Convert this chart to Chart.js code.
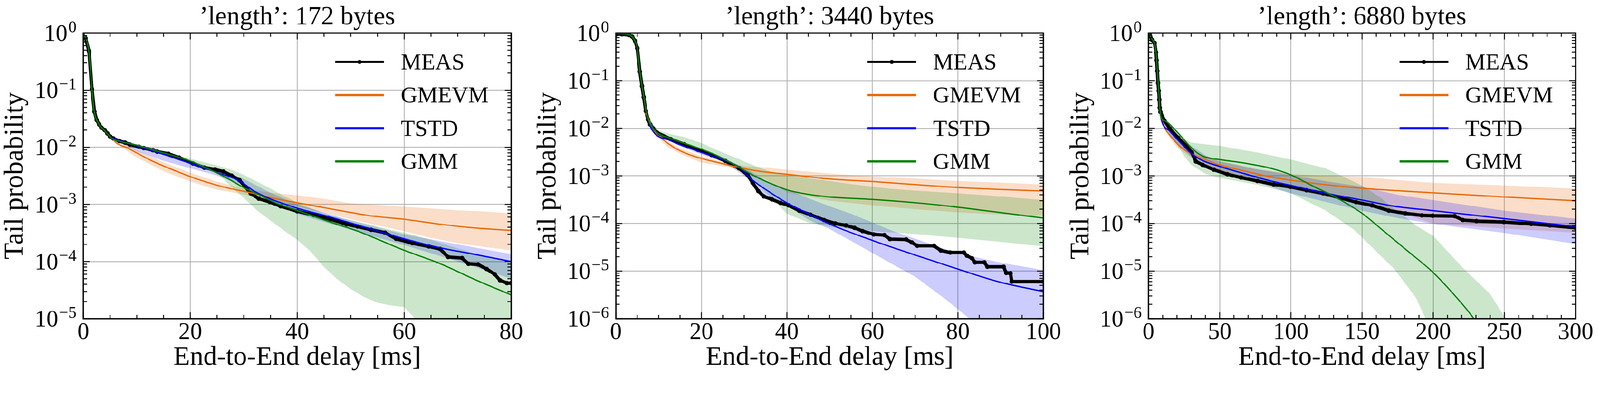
<!DOCTYPE html>
<html>
<head>
<meta charset="utf-8">
<title>Tail probability</title>
<script src="https://cdn.jsdelivr.net/npm/chart.js@4.4.1/dist/chart.umd.min.js"></script>
<style>
html,body{margin:0;padding:0;background:#fff;overflow:hidden;}
#wrap{position:relative;width:4263px;height:1006px;background:#fff;transform-origin:0 0;}
canvas{position:absolute;top:0;}
</style>
</head>
<body>
<div id="wrap">
<canvas id="c1" style="left:0px;width:1420px;height:1006px"></canvas>
<canvas id="c2" style="left:1420px;width:1420px;height:1006px"></canvas>
<canvas id="c3" style="left:2840px;width:1423px;height:1006px"></canvas>
</div>
<script>
// ---- panel 1 : 172 bytes ----
var meas1X = [0.42,1.07,1.61,2.08,2.5,2.97,3.4,4.0,4.5,5.0,5.6,6.7,7.8,8.7,10.4,11.3,13.0,13.8,15.9,17.9,20.5,22.6,24.6,26.2,27.7,29.2,30.3,31.3,32.8,34.9,36.9,40.0,43.1,46.2,49.2,51.3,53.8,56.4,58.5,61.5,64.6,66.7,68.2,70.8,72.0,73.8,75.4,76.9,77.9,79.2,80];
var meas1Y = [0.81,0.48,0.104,0.042,0.030,0.025,0.022,0.020,0.0175,0.0155,0.0143,0.0129,0.0121,0.0112,0.0102,0.0097,0.0089,0.0084,0.0077,0.0066,0.0052,0.0044,0.0041,0.00376,0.0032,0.00266,0.00203,0.00156,0.00126,0.0011,0.00093,0.00076,0.00065,0.00055,0.00045,0.00041,0.00036,0.00032,0.00025,0.00021,0.000184,0.000166,0.00012,0.000115,0.000091,0.000089,0.000074,0.00006,0.000047,0.000042,0.000042];
var gmevm1X = [5.5,5.9,8.2,10.3,12.8,15.4,17.9,20.5,23.1,25.6,28.2,30.8,33.3,35.9,40,44.1,48.7,53.8,60,66.7,72.8,80];
var gmevm1Y = [0.0145,0.0126,0.0098,0.0077,0.0058,0.00454,0.00366,0.00295,0.00245,0.00209,0.00183,0.00164,0.00144,0.00126,0.00107,0.00091,0.00076,0.00063,0.00055,0.00045,0.00039,0.00035];
var gmevmBand1X  = [5.5,8,10,15,20,25,30,35,40,45,50,55,60,65,70,75,80];
var gmevmBand1Lo = [0.0138,0.0088,0.0066,0.0038,0.0025,0.0018,0.0015,0.00115,0.00092,0.00072,0.00055,0.00043,0.00034,0.00026,0.00021,0.00018,0.000157];
var gmevmBand1Hi = [0.0152,0.0108,0.0088,0.0055,0.0036,0.0025,0.0019,0.0016,0.00145,0.00125,0.00105,0.00098,0.00091,0.00085,0.00079,0.00075,0.0007];
var tstd1X = [5.5,6.7,10.3,13.8,17.9,21.5,25.6,29.2,30.3,31.8,34.9,40,46.2,53.8,60,66.7,73.3,80];
var tstd1Y = [0.0145,0.0132,0.0104,0.0082,0.0061,0.0047,0.00347,0.00259,0.0022,0.00174,0.00126,0.00086,0.0006,0.00037,0.00025,0.000174,0.000133,0.0001];
var tstdBand1X  = [5.5,10,15,20,25,30,35,40,50,60,70,80];
var tstdBand1Lo = [0.0138,0.0085,0.0058,0.0043,0.0032,0.0021,0.0011,0.00068,0.00036,0.000194,0.0001,0.00005];
var tstdBand1Hi = [0.0148,0.0108,0.0078,0.0058,0.0042,0.0028,0.0016,0.001,0.00052,0.0003,0.0002,0.000135];
var gmm1X = [0.14,1.0,1.6,2.0,2.7,3.9,5.5,6.7,10.3,13.8,17.4,20.5,23.6,26.7,29.7,32.8,35.9,40,46.2,51.3,60,66.7,73.3,80];
var gmm1Y = [0.97,0.5,0.111,0.045,0.0275,0.02,0.014,0.0128,0.0107,0.0086,0.0069,0.0055,0.0041,0.00295,0.00203,0.00148,0.00107,0.00078,0.00049,0.00034,0.000157,0.000092,0.000048,0.000026];
var gmmBand1X  = [5.5,10,15,20,25,27.5,30,32.5,35,37.5,40,42.5,45,47.5,50,52.5,55,57.5,60,62,63,65,70,75,80];
var gmmBand1Lo = [0.0134,0.0100,0.0074,0.0054,0.0036,0.0021,0.0013,0.00078,0.00052,0.00035,0.00024,0.00015,0.00008,0.000049,0.000033,0.000024,0.000019,0.000017,0.000016,0.00001,0.000007,0.000004,0.000002,0.000001,0.000001];
var gmmBand1Hi = [0.0146,0.0112,0.0082,0.0063,0.0048,0.0041,0.0033,0.0025,0.0019,0.0014,0.00108,0.00086,0.0007,0.0006,0.00053,0.00047,0.00041,0.00036,0.00032,0.00029,0.00027,0.00024,0.00017,0.000125,0.000097];
var xTicks1 = [0,20,40,60,80];

// ---- panel 2 : 3440 bytes ----
var meas2X = [0.3,1.4,3.0,3.8,4.5,5.0,5.6,6.1,6.5,7.0,7.5,8.0,8.7,9.6,12.8,16,19.2,22.4,25.6,28.8,30.8,32,33.3,34.6,36.5,38.5,40.4,42.9,45.5,48.7,51.3,53.8,55.8,57.7,60.3,62.8,64.1,67.9,69.2,70.5,74.4,76,78.2,81.4,82.1,83.3,84,86.2,86.9,90.7,91.3,92.3,92.6,100];
var meas2Y = [0.95,0.94,0.91,0.84,0.68,0.48,0.154,0.077,0.045,0.023,0.0152,0.012,0.0098,0.0081,0.0059,0.0046,0.00352,0.00274,0.00206,0.00144,0.00105,0.00071,0.00048,0.00037,0.00032,0.00027,0.00024,0.000186,0.000153,0.000118,0.0001,0.000091,0.000081,0.000069,0.000059,0.000057,0.000047,0.000046,0.00004,0.000034,0.000034,0.000027,0.0000245,0.0000245,0.000021,0.0000185,0.0000152,0.0000152,0.0000123,0.0000123,0.0000091,0.000009,0.000006,0.000006];
var gmevm2X = [6.9,7.4,9,10.9,13.5,16.7,20,23.7,27.6,33.3,40,50,60,70.5,80,89.7,100];
var gmevm2Y = [0.021,0.0174,0.0086,0.0059,0.004,0.0029,0.00232,0.00192,0.00158,0.00126,0.00108,0.00086,0.00076,0.00065,0.00057,0.00052,0.00048];
var gmevmBand2X  = [6.9,9,12,15,20,25,30,35,40,50,60,70,80,90,100];
var gmevmBand2Lo = [0.019,0.0075,0.0041,0.0029,0.0019,0.0016,0.0013,0.00085,0.00045,0.0003,0.00024,0.0002,0.00017,0.000155,0.000144];
var gmevmBand2Hi = [0.023,0.0095,0.0054,0.0038,0.0026,0.002,0.0016,0.0015,0.00135,0.00112,0.00097,0.00088,0.00078,0.00072,0.00066];
var tstd2X = [7.5,8.3,12.8,19.2,25.6,28.8,32,35.9,40,44.9,50,60,70.5,80,89.7,100];
var tstd2Y = [0.016,0.0098,0.0055,0.0033,0.0021,0.00153,0.00081,0.00046,0.00027,0.000163,0.000097,0.000044,0.000021,0.000011,0.0000059,0.0000037];
var tstdBand2X  = [7.5,10,15,20,25,30,35,40,45,50,55,60,65,70,77,82.7,90,100];
var tstdBand2Lo = [0.015,0.0071,0.0042,0.0028,0.002,0.001,0.00038,0.00024,0.00012,0.000076,0.000043,0.000024,0.0000135,0.0000076,0.0000026,0.000001,0.0000004,0.0000002];
var tstdBand2Hi = [0.017,0.0085,0.005,0.0034,0.0024,0.0015,0.0008,0.00052,0.00034,0.00023,0.00016,0.000105,0.000068,0.000048,0.000029,0.000021,0.000015,0.0000105];
var gmm2X = [0,2,3.5,4.3,5.0,5.6,6.1,6.6,7.0,7.4,8,9.6,12.8,16.7,20,24.4,28.2,32,35.9,40,44.9,50,60,70.5,80,89.7,100];
var gmm2Y = [0.97,0.96,0.88,0.72,0.48,0.16,0.077,0.042,0.024,0.0174,0.0125,0.0081,0.0061,0.0046,0.00363,0.00248,0.00163,0.00104,0.00071,0.00051,0.00041,0.00036,0.00032,0.00027,0.00022,0.00017,0.00013];
var gmmBand2X  = [7.4,9.6,12,16,20,22.4,25,28.8,30,32,34,36,40,45,50,55,60,64,70,80,90,100];
var gmmBand2Lo = [0.016,0.0072,0.0056,0.0042,0.0032,0.0027,0.0021,0.0014,0.00115,0.0008,0.00055,0.00037,0.00016,0.000105,0.000085,0.000076,0.000069,0.000065,0.00006,0.00005,0.000041,0.000033];
var gmmBand2Hi = [0.018,0.0092,0.0078,0.0065,0.0049,0.0039,0.0031,0.00225,0.002,0.0017,0.00144,0.00125,0.00105,0.0009,0.00078,0.00067,0.00059,0.00054,0.00049,0.00043,0.00037,0.00031];
var xTicks2 = [0,20,40,60,80,100];

// ---- panel 3 : 6880 bytes ----
var meas3X = [0.7,2.4,4.3,5.3,5.7,6.2,6.7,7.2,7.6,7.9,8.4,11.2,15,20.8,26.5,30.4,33.3,38,45.8,55.4,65,76.5,88,99.6,111,122.7,134,145.8,157,168.8,180.4,192,199.6,215,220.8,230.4,249.6,268.8,282,300];
var meas3Y = [0.97,0.72,0.62,0.39,0.27,0.16,0.089,0.061,0.04,0.027,0.022,0.0144,0.0098,0.0063,0.0043,0.0031,0.002,0.0017,0.00135,0.00108,0.00092,0.00078,0.00066,0.00059,0.0005,0.00043,0.00035,0.00028,0.00024,0.000186,0.000163,0.000148,0.000145,0.000143,0.000118,0.000112,0.000107,0.000098,0.000091,0.000081];
var gmevm3X = [8.3,11.2,15,22.7,30.4,38,50,67,86,100,124.6,150,200,250,300];
var gmevm3Y = [0.019,0.0104,0.0071,0.004,0.0029,0.00232,0.0017,0.00127,0.00095,0.00081,0.00065,0.00055,0.00044,0.00036,0.0003];
var gmevmBand3X  = [8.3,15,20,30,40,50,75,100,125,150,175,200,250,300];
var gmevmBand3Lo = [0.017,0.0062,0.004,0.0024,0.0016,0.0012,0.00075,0.00052,0.00037,0.00026,0.00017,0.0001,0.000078,0.000064];
var gmevmBand3Hi = [0.02,0.0078,0.0055,0.0036,0.0026,0.0021,0.0014,0.0011,0.001,0.00095,0.00082,0.00071,0.00063,0.00054];
var tstd3X = [8.3,9.2,15,22.7,30.4,38,50,67,86,100,124.6,150,172.7,200,250,300];
var tstd3Y = [0.02,0.0144,0.0086,0.0049,0.0029,0.0021,0.00158,0.00112,0.00078,0.00063,0.00043,0.00031,0.00023,0.000186,0.000126,0.000086];
var tstdBand3X  = [8.3,15,20,30,40,50,75,100,125,150,175,200,250,300];
var tstdBand3Lo = [0.019,0.0075,0.0048,0.0025,0.0016,0.0012,0.00075,0.00043,0.00028,0.000186,0.00013,0.000098,0.000063,0.000037];
var tstdBand3Hi = [0.021,0.0098,0.0068,0.0043,0.0027,0.002,0.0014,0.00105,0.00077,0.00059,0.0004,0.00031,0.000186,0.000126];
var gmm3X = [0,2.4,4.3,5.3,6.2,7.2,7.9,8.6,11.2,13,18.8,24.6,30.4,38,50,67,86,100,115,130.4,150,165,182.3,200,215,227.5,235];
var gmm3Y = [1.0,0.75,0.6,0.4,0.17,0.06,0.027,0.018,0.0144,0.0135,0.0092,0.0059,0.0038,0.0026,0.0022,0.00186,0.00144,0.00105,0.00062,0.00037,0.000163,0.00007,0.000026,0.0000093,0.0000031,0.0000011,0.0000005];
var gmmBand3X  = [8.3,10,15,20,25,30,40,50,57,76.5,100,124.6,144,150,163,172.7,182,188,194,200,220.8,240,250,260];
var gmmBand3Lo = [0.019,0.012,0.007,0.0045,0.0026,0.0017,0.0011,0.0009,0.00083,0.00065,0.00043,0.000186,0.000075,0.000051,0.000021,0.000011,0.0000047,0.0000027,0.0000011,0.0000005,0.0000001,0.0000001,0.0000001,0.0000001];
var gmmBand3Hi = [0.021,0.019,0.013,0.0085,0.006,0.005,0.0046,0.0043,0.0039,0.0031,0.0022,0.00144,0.00076,0.00062,0.00035,0.0002,0.000126,0.00009,0.00007,0.000055,0.0000117,0.0000033,0.0000011,0.0000004];
var xTicks3 = [0,50,100,150,200,250,300];

var titles = ['\u2019length\u2019: 172 bytes', '\u2019length\u2019: 3440 bytes', '\u2019length\u2019: 6880 bytes'];
var seriesNames = ['MEAS', 'GMEVM', 'TSTD', 'GMM'];

var F = '"Liberation Serif", "Times New Roman", serif';
var ORANGE = 'rgb(232,106,8)';
var BLUE = '#0000ff';
var GREEN = '#008000';

// the page is laid out at 4263 x 1006; shrink it if the window is narrower
var sc = window.innerWidth / 4263;
if (sc > 0 && Math.abs(sc - 1) > 0.002) {
  document.getElementById('wrap').style.transform = 'scale(' + sc + ')';
}

function pts(xs, ys) {
  return xs.map(function (x, i) { return {x: x, y: ys[i]}; });
}

// ticks, frame, tick labels and legend, drawn on top like matplotlib
var axesDeco = {
  id: 'axesDeco',
  afterDraw: function (chart) {
    var c = chart.options.plugins.axesDeco;
    var ctx = chart.ctx, a = chart.chartArea;
    var sx = chart.scales.x, sy = chart.scales.y;
    ctx.save();
    ctx.strokeStyle = '#000';
    ctx.lineWidth = 2.5;
    ctx.beginPath();
    for (var v = 0; v <= c.xMax + 1e-9; v += c.xMinor) {
      var px = sx.getPixelForValue(v);
      var major = c.xTicks.indexOf(Math.round(v * 1000) / 1000) >= 0;
      var len = major ? 17 : 10;
      ctx.moveTo(px, a.bottom); ctx.lineTo(px, a.bottom - len);
      ctx.moveTo(px, a.top); ctx.lineTo(px, a.top + len);
    }
    for (var e = c.yMinExp; e <= 0; e++) {
      for (var m = 1; m <= 9; m++) {
        if (e === 0 && m > 1) break;
        var py = sy.getPixelForValue(m * Math.pow(10, e));
        var l = m === 1 ? 17 : 10;
        ctx.moveTo(a.left, py); ctx.lineTo(a.left + l, py);
        ctx.moveTo(a.right, py); ctx.lineTo(a.right - l, py);
      }
    }
    ctx.stroke();
    ctx.lineWidth = 3.5;
    ctx.strokeRect(a.left, a.top, a.right - a.left, a.bottom - a.top);

    ctx.fillStyle = '#000';
    ctx.textBaseline = 'alphabetic';
    ctx.font = '63px ' + F;
    ctx.textAlign = 'center';
    c.xTicks.forEach(function (t) {
      ctx.fillText(String(t), sx.getPixelForValue(t), a.bottom + 54);
    });
    ctx.textAlign = 'left';
    for (var k = c.yMinExp; k <= 0; k++) {
      var y = sy.getPixelForValue(Math.pow(10, k));
      var ex = k === 0 ? '0' : '\u2212' + (-k);
      ctx.font = '63px ' + F;
      var wb = ctx.measureText('10').width;
      ctx.font = '44px ' + F;
      var we = ctx.measureText(ex).width;
      var x0 = a.left - 18 - we - 2 - wb;
      ctx.font = '63px ' + F;
      ctx.fillText('10', x0, y + 21);
      ctx.font = '44px ' + F;
      ctx.fillText(ex, x0 + wb + 2, y - 2);
    }

    // legend
    var items = chart.data.datasets.filter(function (d) { return d.inLegend; });
    ctx.font = '61px ' + F;
    items.forEach(function (d, i) {
      var ry = a.top + 77 + i * 88.3;
      var x1 = a.right - 469, x2 = a.right - 339;
      ctx.strokeStyle = d.borderColor;
      ctx.lineWidth = 6;
      ctx.beginPath(); ctx.moveTo(x1, ry); ctx.lineTo(x2, ry); ctx.stroke();
      if (d.pointRadius > 0) {
        ctx.fillStyle = d.borderColor;
        ctx.beginPath(); ctx.arc((x1 + x2) / 2, ry, 5.5, 0, Math.PI * 2); ctx.fill();
      }
      ctx.fillStyle = '#000';
      ctx.fillText(d.label, a.right - 294, ry + 20);
    });
    ctx.restore();
  }
};

function line(label, xs, ys, color, order) {
  return {label: label, data: pts(xs, ys), borderColor: color, backgroundColor: color,
    borderWidth: 3.5, pointRadius: 0, fill: false, order: order, clip: 0,
    cubicInterpolationMode: 'monotone', inLegend: true};
}
function band(xs, lo, hi, fillColor, order) {
  return [
    {label: 'lo', data: pts(xs, lo), borderWidth: 0, borderColor: 'rgba(0,0,0,0)', pointRadius: 0, fill: false, order: order, clip: 0},
    {label: 'hi', data: pts(xs, hi), borderWidth: 0, borderColor: 'rgba(0,0,0,0)', pointRadius: 0, fill: '-1', backgroundColor: fillColor, order: order, clip: 0}
  ];
}

function makePanel(id, p) {
  var meas = {label: seriesNames[0], data: pts(p.meas[0], p.meas[1]), borderColor: '#000', backgroundColor: '#000',
    borderWidth: 9, pointRadius: 6, pointBorderWidth: 0, pointBackgroundColor: '#000', fill: false, order: 4, clip: 0, inLegend: true};
  var datasets = [
    meas,
    line(seriesNames[1], p.gmevm[0], p.gmevm[1], ORANGE, 3),
    line(seriesNames[2], p.tstd[0], p.tstd[1], BLUE, 2),
    line(seriesNames[3], p.gmm[0], p.gmm[1], GREEN, 1)
  ].concat(band(p.gmevmBand[0], p.gmevmBand[1], p.gmevmBand[2], 'rgba(232,106,8,0.22)', 12))
   .concat(band(p.tstdBand[0], p.tstdBand[1], p.tstdBand[2], 'rgba(0,0,255,0.2)', 11))
   .concat(band(p.gmmBand[0], p.gmmBand[1], p.gmmBand[2], 'rgba(0,128,0,0.2)', 10));

  new Chart(document.getElementById(id), {
    type: 'line',
    data: {datasets: datasets},
    plugins: [axesDeco],
    options: {
      responsive: false,
      animation: false,
      layout: {padding: {top: 0, left: 0, bottom: 0, right: p.padRight}},
      plugins: {
        legend: {display: false},
        tooltip: {enabled: false},
        filler: {propagate: false},
        title: {display: true, text: p.title, fullSize: false, color: '#000',
          font: {family: F, size: 69, weight: 'normal', lineHeight: 1.2}, padding: {top: 5.2, bottom: 0}},
        axesDeco: {xMax: p.xMax, xMinor: p.xMinor, xTicks: p.xTicks, yMinExp: p.yMinExp}
      },
      scales: {
        x: {
          type: 'linear', min: 0, max: p.xMax,
          afterBuildTicks: function (s) { s.ticks = p.xTicks.map(function (v) { return {value: v}; }); },
          afterFit: function (s) { s.height = 157; },
          grid: {color: '#b0b0b0', lineWidth: 2.2, drawTicks: false},
          border: {display: false},
          ticks: {display: false},
          title: {display: true, text: 'End-to-End delay [ms]', color: '#000',
            font: {family: F, size: 72, weight: 'normal', lineHeight: 1.2}, padding: {top: 0, bottom: 10}}
        },
        y: {
          type: 'logarithmic', min: Math.pow(10, p.yMinExp), max: 1,
          afterBuildTicks: function (s) {
            var t = [];
            for (var e = p.yMinExp; e <= 0; e++) t.push({value: Math.pow(10, e)});
            s.ticks = t;
          },
          afterFit: function (s) { s.width = p.left; },
          grid: {color: '#b0b0b0', lineWidth: 2.2, drawTicks: false},
          border: {display: false},
          ticks: {display: false},
          title: {display: true, text: 'Tail probability', color: '#000',
            font: {family: F, size: 72, weight: 'normal', lineHeight: 1.1}, padding: {top: 1, bottom: 0}}
        }
      }
    }
  });
}

var canvases = ['c1', 'c2', 'c3'];
var widths = [1420, 1420, 1423];
canvases.forEach(function (id, i) {
  var cv = document.getElementById(id);
  cv.width = widths[i];
  cv.height = 1006;
});

makePanel('c1', {title: titles[0], xMax: 80, xMinor: 5, xTicks: xTicks1, yMinExp: -5, left: 222, padRight: 58,
  meas: [meas1X, meas1Y], gmevm: [gmevm1X, gmevm1Y], tstd: [tstd1X, tstd1Y], gmm: [gmm1X, gmm1Y],
  gmevmBand: [gmevmBand1X, gmevmBand1Lo, gmevmBand1Hi], tstdBand: [tstdBand1X, tstdBand1Lo, tstdBand1Hi], gmmBand: [gmmBand1X, gmmBand1Lo, gmmBand1Hi]});
makePanel('c2', {title: titles[1], xMax: 100, xMinor: 5, xTicks: xTicks2, yMinExp: -6, left: 221, padRight: 60,
  meas: [meas2X, meas2Y], gmevm: [gmevm2X, gmevm2Y], tstd: [tstd2X, tstd2Y], gmm: [gmm2X, gmm2Y],
  gmevmBand: [gmevmBand2X, gmevmBand2Lo, gmevmBand2Hi], tstdBand: [tstdBand2X, tstdBand2Lo, tstdBand2Hi], gmmBand: [gmmBand2X, gmmBand2Lo, gmmBand2Hi]});
makePanel('c3', {title: titles[2], xMax: 300, xMinor: 10, xTicks: xTicks3, yMinExp: -6, left: 220, padRight: 65,
  meas: [meas3X, meas3Y], gmevm: [gmevm3X, gmevm3Y], tstd: [tstd3X, tstd3Y], gmm: [gmm3X, gmm3Y],
  gmevmBand: [gmevmBand3X, gmevmBand3Lo, gmevmBand3Hi], tstdBand: [tstdBand3X, tstdBand3Lo, tstdBand3Hi], gmmBand: [gmmBand3X, gmmBand3Lo, gmmBand3Hi]});
</script>
</body>
</html>
